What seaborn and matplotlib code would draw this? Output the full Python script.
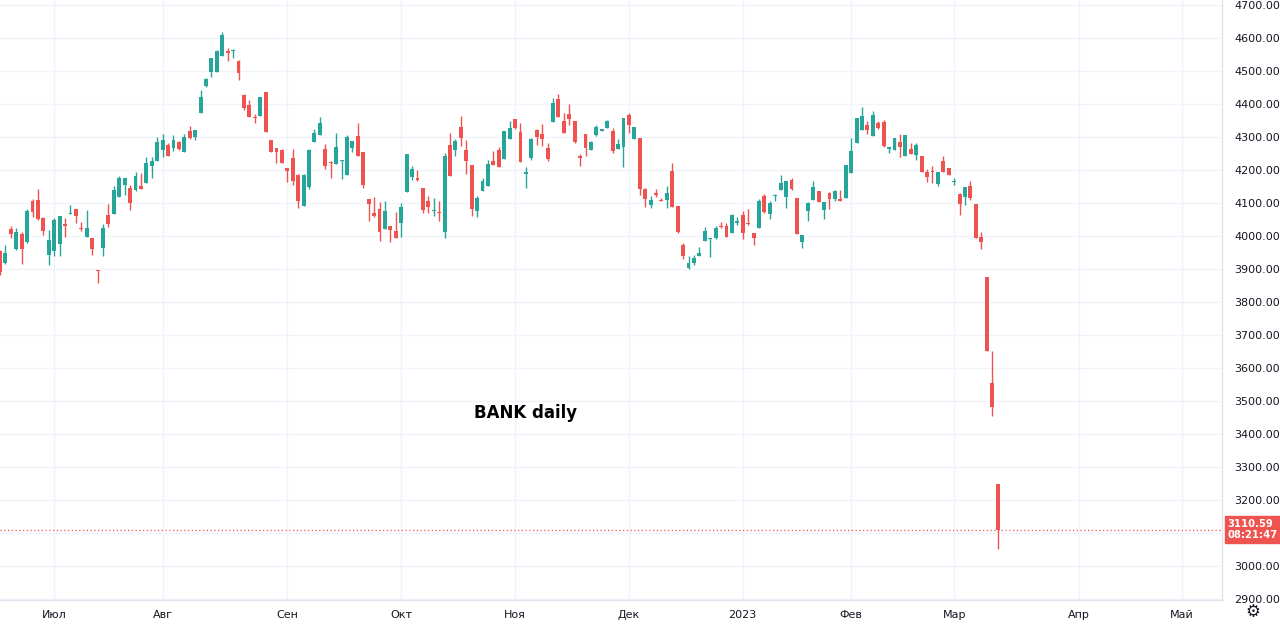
import numpy as np
import pandas as pd
import matplotlib
matplotlib.use('Agg')
import matplotlib.pyplot as plt
import seaborn as sns

# Daily OHLC (16 Jun 2022 .. 13 Mar 2023)
opens = [3953, 3918, 4021, 3961, 4006, 3983, 4106, 4108, 4055, 3943,
         3953, 3975, 4035, 4067, 4083, 4025, 3996, 3993, 3898, 3963,
         4065, 4068, 4118, 4153, 4145, 4138, 4150, 4161, 4213, 4226,
         4260, 4275, 4267, 4285, 4255, 4317, 4300, 4373, 4455, 4498,
         4498, 4545, 4561, 4560, 4531, 4428, 4398, 4361, 4363, 4435,
         4290, 4266, 4261, 4205, 4235, 4185, 4091, 4148, 4286, 4306,
         4263, 4223, 4218, 4227, 4186, 4268, 4303, 4255, 4113, 4070,
         4083, 4021, 4031, 4015, 4038, 4132, 4179, 4176, 4144, 4107,
         4075, 4072, 4013, 4277, 4259, 4331, 4260, 4216, 4076, 4135,
         4152, 4228, 4262, 4233, 4295, 4353, 4315, 4188, 4237, 4321,
         4308, 4267, 4345, 4414, 4348, 4371, 4348, 4242, 4308, 4260,
         4306, 4318, 4326, 4318, 4265, 4271, 4368, 4295, 4298, 4141,
         4095, 4131, 4110, 4110, 4198, 4090, 3973, 3903, 3918, 3938,
         3986, 3991, 3995, 4030, 4031, 4010, 4040, 4063, 4040, 4010,
         4023, 4121, 4068, 4120, 4138, 4118, 4171, 4115, 3981, 4075,
         4108, 4136, 4078, 4130, 4111, 4111, 4115, 4190, 4283, 4320,
         4336, 4303, 4343, 4346, 4263, 4261, 4285, 4243, 4263, 4246,
         4243, 4195, 4195, 4156, 4228, 4205, 4163, 4128, 4118, 4151,
         4096, 3998, 3875, 3556, 3248]
highs = [3958, 3973, 4030, 4023, 4011, 4083, 4113, 4141, 4058, 4018,
         4055, 4060, 4053, 4093, 4083, 4043, 4078, 3993, 3898, 4035,
         4098, 4151, 4181, 4177, 4155, 4193, 4191, 4238, 4238, 4300,
         4310, 4281, 4305, 4287, 4310, 4333, 4322, 4443, 4480, 4540,
         4562, 4618, 4571, 4566, 4533, 4430, 4411, 4371, 4420, 4437,
         4292, 4268, 4263, 4207, 4265, 4187, 4187, 4263, 4325, 4361,
         4280, 4228, 4311, 4230, 4305, 4288, 4341, 4255, 4113, 4118,
         4103, 4105, 4031, 4073, 4099, 4247, 4211, 4201, 4144, 4120,
         4115, 4107, 4252, 4313, 4294, 4363, 4290, 4216, 4120, 4176,
         4229, 4257, 4270, 4319, 4348, 4355, 4343, 4209, 4297, 4325,
         4338, 4282, 4419, 4429, 4374, 4399, 4348, 4247, 4308, 4287,
         4335, 4323, 4350, 4328, 4295, 4356, 4373, 4331, 4298, 4145,
         4120, 4141, 4115, 4151, 4220, 4090, 3980, 3938, 3941, 3968,
         4028, 3995, 4030, 4043, 4038, 4066, 4058, 4076, 4083, 4010,
         4111, 4126, 4106, 4128, 4185, 4168, 4175, 4115, 4003, 4103,
         4168, 4136, 4103, 4133, 4138, 4138, 4215, 4298, 4358, 4390,
         4348, 4378, 4348, 4351, 4270, 4298, 4308, 4306, 4281, 4283,
         4243, 4203, 4211, 4195, 4243, 4205, 4175, 4131, 4148, 4168,
         4096, 4013, 3875, 3650, 3248]
lows = [3883, 3915, 3993, 3958, 3916, 3980, 4058, 4048, 4003, 3913,
        3938, 3938, 3998, 4067, 4038, 4016, 3996, 3943, 3858, 3938,
        4028, 4068, 4118, 4123, 4078, 4135, 4141, 4161, 4175, 4226,
        4238, 4243, 4257, 4259, 4255, 4293, 4290, 4373, 4452, 4483,
        4498, 4545, 4530, 4538, 4473, 4383, 4361, 4343, 4363, 4316,
        4253, 4221, 4221, 4165, 4155, 4086, 4091, 4143, 4286, 4306,
        4203, 4175, 4218, 4173, 4186, 4255, 4243, 4146, 4045, 4058,
        3985, 4021, 3983, 3993, 3998, 4132, 4171, 4168, 4071, 4069,
        4061, 4046, 3993, 4183, 4242, 4272, 4189, 4062, 4057, 4135,
        4152, 4216, 4208, 4233, 4295, 4324, 4223, 4145, 4229, 4277,
        4272, 4228, 4345, 4361, 4311, 4335, 4282, 4213, 4242, 4260,
        4302, 4318, 4326, 4251, 4265, 4210, 4313, 4295, 4123, 4088,
        4085, 4118, 4105, 4086, 4088, 4010, 3931, 3901, 3913, 3938,
        3986, 3935, 3991, 4023, 3996, 4010, 4033, 3990, 4033, 3973,
        4023, 4070, 4051, 4105, 4138, 4085, 4138, 4005, 3963, 4045,
        4108, 4103, 4050, 4081, 4105, 4105, 4115, 4190, 4283, 4320,
        4308, 4303, 4323, 4271, 4251, 4261, 4238, 4243, 4248, 4230,
        4193, 4163, 4161, 4151, 4193, 4186, 4153, 4065, 4095, 4108,
        3993, 3961, 3650, 3455, 3053]
closes = [3890, 3948, 4006, 4011, 3961, 4076, 4073, 4051, 4016, 3988,
          4048, 4060, 4030, 4071, 4061, 4020, 4023, 3961, 3895, 4023,
          4036, 4138, 4177, 4177, 4101, 4181, 4143, 4220, 4228, 4285,
          4290, 4243, 4290, 4265, 4300, 4298, 4322, 4421, 4476, 4538,
          4560, 4608, 4555, 4564, 4493, 4388, 4361, 4357, 4420, 4316,
          4253, 4253, 4221, 4196, 4168, 4105, 4185, 4261, 4313, 4343,
          4213, 4220, 4270, 4230, 4300, 4288, 4243, 4153, 4096, 4060,
          4011, 4075, 4018, 3993, 4089, 4247, 4203, 4171, 4079, 4087,
          4079, 4069, 4242, 4183, 4287, 4297, 4226, 4082, 4115, 4168,
          4219, 4216, 4208, 4319, 4328, 4326, 4223, 4193, 4294, 4300,
          4294, 4233, 4402, 4361, 4313, 4353, 4285, 4236, 4267, 4284,
          4330, 4323, 4348, 4258, 4278, 4356, 4335, 4331, 4141, 4111,
          4110, 4123, 4107, 4131, 4088, 4011, 3940, 3918, 3933, 3947,
          4016, 3995, 4023, 4026, 3996, 4063, 4045, 4010, 4036, 3995,
          4106, 4073, 4101, 4123, 4161, 4168, 4143, 4005, 4003, 4101,
          4148, 4103, 4103, 4111, 4135, 4105, 4215, 4258, 4358, 4363,
          4321, 4368, 4326, 4273, 4270, 4298, 4271, 4306, 4248, 4275,
          4193, 4178, 4193, 4195, 4193, 4186, 4165, 4098, 4148, 4115,
          3993, 3981, 3650, 3481, 3110.59]

holidays = ['2022-06-20', '2022-07-04', '2022-09-05', '2022-11-24', '2022-12-26',
            '2023-01-02', '2023-01-16', '2023-02-20', '2023-04-07', '2023-05-29']
month_names = {1: '2023', 2: 'Фев', 3: 'Мар', 4: 'Апр', 5: 'Май', 7: 'Июл',
               8: 'Авг', 9: 'Сен', 10: 'Окт', 11: 'Ноя', 12: 'Дек'}
last_price = 3110.59
countdown = '08:21:47'

UP, DOWN = '#26a69a', '#ef5350'

# trading calendar, extended into the empty future part of the chart
bday = pd.offsets.CustomBusinessDay(holidays=holidays)
cal = pd.date_range('2022-06-16', '2023-05-31', freq=bday)

df = pd.DataFrame({'date': cal[:len(closes)], 'open': opens, 'high': highs,
                   'low': lows, 'close': closes})
df['idx'] = np.arange(len(df))
df['color'] = np.where(df['close'] >= df['open'], UP, DOWN)
df['body_lo'] = df[['open', 'close']].min(axis=1)
df['body_h'] = (df['close'] - df['open']).abs().clip(lower=3)

sns.set_theme(style='white')
plt.rcParams['font.family'] = ['DejaVu Sans']

fig = plt.figure(figsize=(12.8, 6.26), dpi=100)
ax = fig.add_axes([0, 26 / 626, 1222 / 1280, 600 / 626])

# month ticks at the first trading day of each month
cal_s = pd.Series(cal)
first = cal_s[cal_s.dt.month != cal_s.shift().dt.month].iloc[1:]
ax.set_xticks(first.index)
ax.set_xticklabels([month_names[d.month] for d in first])

# the 3100 label sits under the last-price tag, so it is not shown
yticks = np.arange(2900, 4701, 100)
ax.set_yticks(yticks)
ax.set_yticklabels(['' if v == 3100 else f'{v:.2f}' for v in yticks])
ax.yaxis.tick_right()

ax.grid(True, color='#f0f3fa', lw=1)
ax.set_axisbelow(True)

ax.vlines(df['idx'], df['low'], df['high'], colors=df['color'], lw=1)
ax.bar(df['idx'], df['body_h'], bottom=df['body_lo'], width=0.72,
       color=df['color'], linewidth=0)

ax.axhline(last_price, color=DOWN, lw=0.9, linestyle=(0, (1, 2)))

ax.set_xlim(0, 225.4)
ax.set_ylim(2897, 4715)

for s in ['top', 'left']:
    ax.spines[s].set_visible(False)
for s in ['bottom', 'right']:
    ax.spines[s].set_color('#e0e3eb')
    ax.spines[s].set_linewidth(1)

ax.tick_params(axis='x', length=0, pad=7, labelsize=8, labelcolor='#131722')
ax.tick_params(axis='y', length=0, pad=9, labelsize=8, labelcolor='#131722')

ax.text(0.43, 0.312, 'BANK daily', transform=ax.transAxes, fontsize=12,
        fontweight='bold', color='black', ha='center', va='center')

ax.annotate(f'{last_price:.2f}\n{countdown}', xy=(1.0, last_price),
            xycoords=('axes fraction', 'data'), xytext=(4, 0),
            textcoords='offset points', ha='left', va='center',
            fontsize=7.2, color='white', fontweight='bold', linespacing=1.1,
            bbox=dict(boxstyle='square,pad=0.3', fc=DOWN, ec=DOWN),
            annotation_clip=False, zorder=5)

fig.text(1253 / 1280, 1 - 612 / 626, '\u2699', fontsize=12, color='#131722',
         ha='center', va='center')

fig.savefig('out.png', dpi=100)
